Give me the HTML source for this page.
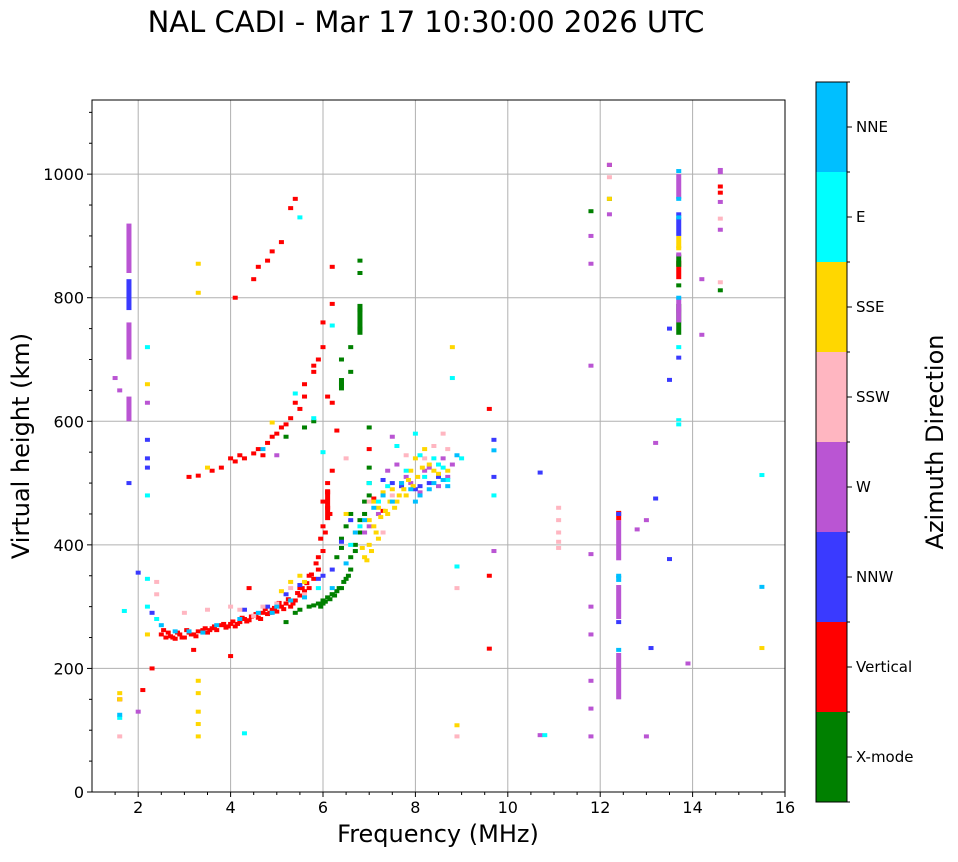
<!DOCTYPE html>
<html><head><meta charset="utf-8">
<style>
body{margin:0;background:#fff;}
svg text{font-family:"DejaVu Sans","Liberation Sans",sans-serif;fill:#000;}
</style></head>
<body>
<svg id="chart" width="958" height="857" viewBox="0 0 958 857" xmlns="http://www.w3.org/2000/svg">
<text x="426" y="32" font-size="29" text-anchor="middle">NAL CADI - Mar 17 10:30:00 2026 UTC</text>
<g id="grid"></g>
<g id="marks"></g>
<rect x="92" y="100" width="693" height="692" fill="none" stroke="#000" stroke-width="1"/>
<g id="axes"></g>
<text x="438" y="842" font-size="24" text-anchor="middle">Frequency (MHz)</text>
<text transform="translate(29,446) rotate(-90)" font-size="24" text-anchor="middle">Virtual height (km)</text>
<g id="cbar"></g>
<text transform="translate(943,442) rotate(-90)" font-size="24" text-anchor="middle">Azimuth Direction</text>
</svg>
<script>
const directions=["X-mode","Vertical","NNW","W","SSW","SSE","E","NNE"];
const dirColors=["#008000","#ff0000","#3a3aff","#ba55d3","#ffb6c1","#ffd700","#00ffff","#00bfff"];
const xTicks=[2,4,6,8,10,12,14,16];
const yTicks=[0,200,400,600,800,1000];
const xmodeF=[5.2,5.4,5.5,5.7,5.8,5.9,6.0,6.1,6.2,6.3,6.4,6.5,6.6,6.6,6.7,6.8,6.9,7.0,6.5,6.3,6.4,5.2,5.6,5.8,6.4,6.4,6.6,6.6,6.8,6.8,6.8,6.8,11.8,12.2,14.6,13.7,7.0,7.0,6.2,6.0,5.95,6.05,6.15,6.25,6.35,6.45,6.55,6.7,6.8,6.9,7.0,6.6,6.4];
const xmodeH=[275,290,295,300,302,305,310,315,320,325,330,345,360,380,400,420,450,480,430,380,410,575,590,600,660,700,680,720,750,780,840,860,940,960,812,820,590,525,320,305,300,308,312,318,330,340,350,390,440,470,500,450,395];
const vertF=[2.3,2.5,2.6,2.7,2.8,2.9,3.0,3.1,3.2,3.3,3.4,3.5,3.6,3.7,3.8,3.9,4.0,4.1,4.2,4.3,4.4,4.5,4.6,4.7,4.8,4.9,5.0,5.1,5.2,5.3,5.4,5.5,5.6,5.7,5.8,5.9,6.0,6.0,6.1,6.1,6.2,3.1,3.3,3.6,3.8,4.0,4.1,4.2,4.3,4.5,4.6,4.8,4.9,5.1,5.3,5.5,5.6,5.8,5.9,6.0,6.1,6.2,4.1,4.5,4.6,4.8,4.9,5.1,5.3,5.4,6.2,9.6,9.6,9.6,1.6,3.2,4.0,14.6,14.6,12.2,2.1,
 2.55,2.65,2.75,2.85,2.95,3.05,3.15,3.25,3.45,3.55,3.65,3.85,3.95,4.05,4.15,4.25,4.35,4.45,4.55,4.65,4.75,4.85,4.95,5.05,5.15,5.25,5.35,5.45,5.55,5.65,5.75,5.85,5.95,6.05,6.15,6.0,6.1,5.9,5.7,5.5,4.4,4.7,5.0,5.2,5.4,5.6,5.8,6.0,6.2,6.3,7.1,7.3,7.0];
const vertH=[200,255,250,252,248,255,250,258,255,260,262,258,265,262,270,266,272,268,275,280,278,285,282,290,288,295,292,300,305,300,310,318,325,330,345,360,390,430,460,500,520,510,512,520,525,540,535,545,540,548,555,565,575,590,605,620,640,680,700,760,640,630,800,830,850,860,875,890,945,960,850,620,350,232,150,230,220,970,980,1015,165,
 262,258,250,258,250,262,255,252,265,262,268,272,268,276,272,282,276,284,288,280,296,290,298,306,296,312,305,322,330,338,352,370,410,420,450,470,485,380,350,330,330,545,580,595,630,660,690,720,790,585,475,455,555];
const nnwF=[1.8,2.2,2.2,2.2,2.3,2.0,5.2,5.5,5.9,6.2,6.6,7.5,8.0,8.3,9.7,9.7,10.7,12.4,13.1,13.2,13.5,13.5,13.5,12.4,13.7,13.7,7.3,7.7,8.1,8.5,6.0,6.4,4.3,4.8];
const nnwH=[500,570,540,525,290,355,320,335,345,360,440,500,490,500,570,510,517,275,233,475,377,667,750,450,935,703,505,495,495,510,350,405,295,300];
const wF=[1.5,1.6,2.0,2.2,5.0,7.5,7.8,8.2,8.7,9.7,11.8,11.8,11.8,11.8,11.8,11.8,11.8,11.8,11.8,13.0,12.8,13.2,13.9,14.2,14.2,14.6,14.6,10.7,12.2,12.2,13.0,13.7,13.7,7.4,7.6,7.9,8.1,8.3,8.5,8.6,8.8,7.2,7.0,6.9];
const wH=[670,650,130,630,545,575,510,520,510,390,900,855,690,385,300,255,180,135,90,440,425,565,208,740,830,910,955,92,1015,935,90,870,780,520,530,500,485,525,495,540,530,450,430,420];
const sswF=[1.6,2.4,2.4,3.5,4.0,4.7,5.3,7.0,7.3,7.5,8.6,8.9,8.9,11.1,11.1,11.1,11.1,11.1,12.2,14.6,14.6,6.5,3.0,4.2,4.5,5.0,5.6,7.8,8.2,8.4,8.7];
const sswH=[90,320,340,295,300,300,330,470,420,480,580,90,330,460,440,420,395,405,995,928,825,540,290,295,285,305,320,545,540,560,555];
const sseF=[1.6,1.6,2.2,2.2,3.3,3.3,3.3,3.3,3.3,3.3,3.3,3.5,4.9,5.3,5.5,6.5,6.7,6.9,7.0,7.1,7.2,7.4,7.5,7.6,7.8,7.9,8.0,8.2,8.4,8.8,8.9,12.2,15.5,13.7,7.2,7.7,
 6.95,7.05,7.15,7.25,7.35,7.45,7.55,7.65,7.75,7.85,7.95,8.05,8.15,8.3,8.5,8.7,6.85,7.0,7.1,7.3,5.1,5.6];
const sseH=[160,150,660,255,855,808,180,160,130,110,90,525,598,340,350,450,420,380,400,430,460,450,490,470,480,520,540,555,520,720,108,960,233,880,410,500,
 375,390,420,445,455,470,460,480,490,505,495,510,525,530,515,520,395,440,470,485,325,340];
const eF=[1.6,2.2,2.2,2.2,2.2,2.4,4.3,5.4,5.5,5.8,6.0,6.2,6.6,7.0,7.6,8.0,8.2,8.5,8.8,8.9,9.0,9.7,10.8,13.7,15.5,13.7,1.7,7.2,7.4,7.8,8.1,8.4,8.6,8.7,6.8,5.9];
const eH=[120,720,480,345,300,280,95,645,930,605,550,755,400,500,560,580,510,530,670,365,540,480,92,595,513,720,293,470,495,520,545,540,525,505,430,330];
const nneF=[2.5,2.8,3.1,3.4,3.7,4.2,4.6,5.0,5.3,5.6,6.2,6.5,6.9,7.3,7.7,8.0,8.3,8.6,8.9,9.7,12.4,12.4,13.7,13.7,13.7,15.5,13.7,1.6,4.7,7.1,7.5,7.9,8.1,8.4,8.7,6.7,4.9];
const nneH=[270,260,260,258,270,280,290,300,310,315,330,370,440,480,500,470,490,505,545,553,230,350,1005,960,930,332,800,125,555,460,470,490,480,500,495,420,290];
const colF=[1.8,1.8,1.8,1.8,12.4,12.4,12.4,13.7,6.8,6.4,12.4,14.6,13.7,13.7,6.1,13.7,13.7,13.7,13.7,13.7,12.4];
const colLo=[600,700,780,840,375,280,150,960,740,650,440,1000,740,600,440,880,900,830,760,850,340];
const colHi=[640,760,830,920,440,335,225,1000,790,670,455,1010,790,605,490,900,930,860,800,870,350];
const colDir=[3,3,2,3,3,3,3,3,0,0,1,3,0,6,1,5,2,1,3,0,7];

const X0=92,X1=785,Y0=792,Y1=100,fMin=1,fMax=16,hMin=0,hMax=1120;
function xs(f){return X0+(f-fMin)/(fMax-fMin)*(X1-X0);}
function ys(h){return Y0-(h-hMin)/(hMax-hMin)*(Y0-Y1);}
const NS="http://www.w3.org/2000/svg";
function mk(tag,parent,attrs){const e=document.createElementNS(NS,tag);for(const k in attrs)e.setAttribute(k,attrs[k]);parent.appendChild(e);return e;}
const grid=document.getElementById('grid'),axes=document.getElementById('axes'),marks=document.getElementById('marks'),cbar=document.getElementById('cbar');
xTicks.forEach(t=>{
  const x=xs(t);
  const g=mk('line',grid,{x1:x,x2:x,y1:Y1,y2:Y0,stroke:'#b0b0b0','stroke-width':1});
  
  
  mk('line',axes,{x1:x,x2:x,y1:Y0,y2:Y0+5,stroke:'#000'});
  const tx=mk('text',axes,{x:x,y:Y0+21,'font-size':16,'text-anchor':'middle'});
  tx.textContent=t;
  
  
});
for(let f=1.5;f<16;f+=0.5){if(f%2!==0){const x=xs(f);mk('line',axes,{x1:x,x2:x,y1:Y0,y2:Y0+3,stroke:'#000'});}}
yTicks.forEach(t=>{
  const y=ys(t);
  const g=mk('line',grid,{x1:X0,x2:X1,y1:y,y2:y,stroke:'#b0b0b0','stroke-width':1});
  
  
  mk('line',axes,{x1:X0-5,x2:X0,y1:y,y2:y,stroke:'#000'});
  const tx=mk('text',axes,{x:X0-8,y:y+6,'font-size':16,'text-anchor':'end'});
  tx.textContent=t;
  
  
});
for(let h=50;h<1120;h+=50){if(h%200!==0){const y=ys(h);mk('line',axes,{x1:X0-3,x2:X0,y1:y,y2:y,stroke:'#000'});}}
const series=[[xmodeF,xmodeH],[vertF,vertH],[nnwF,nnwH],[wF,wH],[sswF,sswH],[sseF,sseH],[eF,eH],[nneF,nneH]];
const W=5;
colF.forEach((f,i)=>{
  const r=mk('rect',marks,{x:xs(f)-W/2,y:ys(colHi[i]),width:W,height:Math.max(3,ys(colLo[i])-ys(colHi[i])),fill:dirColors[colDir[i]]});
  
  
});
series.forEach((s,ci)=>{
  s[0].forEach((f,i)=>{
    const r=mk('rect',marks,{x:xs(f)-W/2,y:ys(s[1][i])-2,width:W,height:4,fill:dirColors[ci]});
    
    
  });
});
const CB0=816,CBW=31,CBT=82,CBB=802,seg=(CBB-CBT)/directions.length;
directions.forEach((d,i)=>{
  const y=CBB-(i+1)*seg;
  const r=mk('rect',cbar,{x:CB0,y:y,width:CBW,height:seg,fill:dirColors[i]});
  
  
  mk('line',cbar,{x1:CB0+CBW,x2:CB0+CBW+5,y1:y+seg/2,y2:y+seg/2,stroke:'#000'});
  const t=mk('text',cbar,{x:CB0+CBW+9,y:y+seg/2+5,'font-size':15});
  t.textContent=d;
  
  
});
for(let i=0;i<=directions.length;i++){const y=CBB-i*seg;mk('line',cbar,{x1:CB0+CBW,x2:CB0+CBW+3,y1:y,y2:y,stroke:'#000'});}
mk('rect',cbar,{x:CB0,y:CBT,width:CBW,height:CBB-CBT,fill:'none',stroke:'#000'});
</script>
</body></html>
